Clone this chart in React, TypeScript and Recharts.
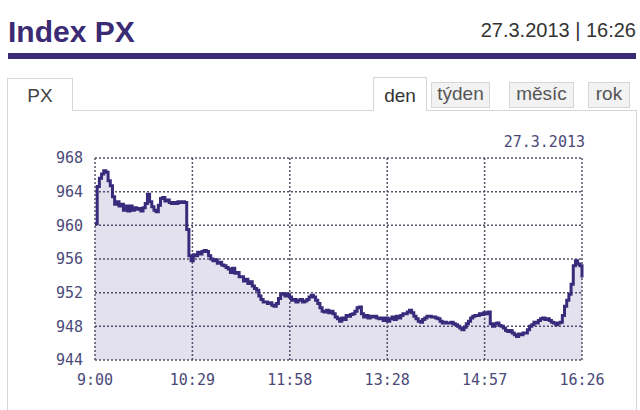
import { Area, AreaChart, CartesianGrid, XAxis, YAxis } from "recharts";

// PX index, 27.3.2013, one reading every 2 minutes from 9:00
const STEP_MIN = 2;
const PX_VALUES = [
  960.2, 964.6, 965.6, 966.1, 966.5, 966.3, 965.3, 964.7, 963.4, 962.5,
  962.8, 962.3, 962.5, 961.8, 962.3, 961.7, 962.3, 961.8, 962.1, 961.9,
  962.0, 961.7, 962.1, 962.6, 963.7, 962.8, 962.2, 961.8, 961.6, 962.4,
  963.2, 963.3, 962.9, 963.0, 962.7, 962.6, 962.7, 962.6, 962.8, 962.7,
  962.8, 962.7, 959.5, 956.4, 955.8, 956.5, 956.4, 956.8, 956.6, 956.9,
  957.0, 956.9, 956.4, 956.0, 955.8, 955.9, 955.5, 955.6, 955.3, 955.2,
  955.0, 954.8, 954.4, 954.9, 954.3, 954.4, 953.9, 953.9, 953.4, 953.6,
  953.1, 953.3, 952.8, 952.5, 952.3, 951.6, 951.2, 950.9, 950.9, 950.7,
  950.8, 950.5, 950.4, 950.7, 951.3, 951.8, 951.9, 951.6, 951.8, 951.5,
  951.1, 951.2, 950.9, 951.1, 951.2, 950.9, 951.0, 951.2, 951.5, 951.7,
  951.5, 951.1, 950.7, 950.2, 949.8, 949.7, 949.9, 949.6, 949.8, 949.5,
  949.1, 948.9, 948.6, 949.0, 948.8, 949.3, 949.2, 949.4, 949.5, 949.8,
  950.2, 950.3, 949.5, 949.1, 949.3, 949.0, 949.2, 949.1, 949.2, 949.0,
  948.9, 949.0, 948.7, 949.0, 948.6, 948.9, 949.1, 948.8, 949.2, 949.0,
  949.3, 949.5, 949.5, 949.7, 949.9, 949.6, 949.2, 948.9, 948.6, 948.5,
  948.8, 949.0, 949.2, 949.2, 949.1, 949.1, 949.0, 948.9, 948.6, 948.4,
  948.5, 948.4, 948.4, 948.5, 948.3, 948.2, 948.0, 947.8, 947.6, 947.9,
  948.3, 948.6, 949.0, 949.2, 949.3, 949.3, 949.5, 949.4, 949.6, 949.5,
  949.7, 948.3, 948.0, 948.3, 948.4, 948.1, 948.0, 947.8, 947.5, 947.4,
  947.5, 947.2, 947.0, 946.8, 947.1, 947.0, 947.2, 947.2, 947.6, 948.0,
  948.2, 948.5, 948.4, 948.7, 948.9, 949.0, 948.8, 948.9, 948.7, 948.5,
  948.4, 948.2, 948.4, 948.5, 949.3, 950.4, 951.1, 951.8, 953.0, 955.2,
  955.8, 955.4, 955.2, 953.8,
];

const Y_TICKS = [944, 948, 952, 956, 960, 964, 968];
const X_TICKS = [0, 89.2, 178.4, 267.6, 356.8, 446];
const X_LABELS = ["9:00", "10:29", "11:58", "13:28", "14:57", "16:26"];
const PERIODS = ["den", "týden", "měsíc", "rok"];

const data = PX_VALUES.map((v, i) => ({ t: i * STEP_MIN, px: v }));

const PURPLE = "#3b2a74";
const LINE = "#3a2a7c";
const AXIS_TEXT = "#4a4a78";
const MONO = "'DejaVu Sans Mono', monospace";
const SANS = "'Liberation Sans', Arial, sans-serif";

const tabBase: React.CSSProperties = {
  position: "absolute",
  boxSizing: "border-box",
  fontFamily: SANS,
  fontSize: 19,
  textAlign: "center",
};

export default function App() {
  const tabPos = [
    { left: 373, width: 54 },
    { left: 431, width: 59 },
    { left: 509, width: 65 },
    { left: 588, width: 42 },
  ];
  return (
    <div
      style={{
        position: "absolute",
        left: 0,
        top: 0,
        width: 640,
        height: 410,
        background: "#fff",
        overflow: "hidden",
      }}
    >
      <div
        style={{
          position: "absolute",
          left: 8,
          top: 14,
          fontFamily: SANS,
          fontWeight: 700,
          fontSize: 30,
          color: PURPLE,
          lineHeight: "36px",
        }}
      >
        Index PX
      </div>
      <div
        style={{
          position: "absolute",
          right: 4,
          top: 18,
          fontFamily: SANS,
          fontSize: 20,
          color: "#333",
          lineHeight: "24px",
        }}
      >
        27.3.2013 | 16:26
      </div>
      <div
        style={{
          position: "absolute",
          left: 8,
          top: 53,
          width: 628,
          height: 6,
          background: PURPLE,
        }}
      />

      {/* panel */}
      <div
        style={{
          position: "absolute",
          left: 7,
          top: 110,
          width: 630,
          height: 320,
          boxSizing: "border-box",
          border: "1px solid #d6d6d6",
        }}
      />
      <div
        style={{
          ...tabBase,
          left: 7,
          top: 78,
          width: 66,
          height: 33,
          background: "#fff",
          border: "1px solid #d6d6d6",
          borderBottom: "none",
          color: "#444",
          lineHeight: "34px",
        }}
      >
        PX
      </div>
      {PERIODS.map((p, i) => {
        const active = i === 0;
        return (
          <div
            key={p}
            style={{
              ...tabBase,
              left: tabPos[i].left,
              width: tabPos[i].width,
              top: active ? 77 : 82,
              height: active ? 34 : 26,
              background: active ? "#fff" : "#f2f2f2",
              border: "1px solid #d6d6d6",
              borderBottom: active ? "none" : "1px solid #d6d6d6",
              color: active ? "#333" : "#555",
              lineHeight: active ? "36px" : "22px",
            }}
          >
            {p}
          </div>
        );
      })}

      <div
        style={{
          position: "absolute",
          right: 55,
          top: 133,
          fontFamily: MONO,
          fontSize: 15,
          color: AXIS_TEXT,
        }}
      >
        27.3.2013
      </div>

      <div style={{ position: "absolute", left: 0, top: 110 }}>
        <AreaChart
          width={640}
          height={290}
          data={data}
          margin={{ top: 48, right: 58, bottom: 10, left: 35 }}
        >
          <CartesianGrid
            stroke="#55556a"
            strokeDasharray="2 2"
            strokeWidth={1.5}
          />
          <XAxis
            dataKey="t"
            type="number"
            domain={[0, 446]}
            ticks={X_TICKS}
            tickFormatter={(v: number) => X_LABELS[X_TICKS.indexOf(v)] ?? ""}
            axisLine={false}
            tickLine={false}
            tickSize={0}
            tickMargin={14}
            height={30}
            interval={0}
            tick={{ fill: AXIS_TEXT, fontFamily: MONO, fontSize: 15 }}
          />
          <YAxis
            domain={[944, 968]}
            ticks={Y_TICKS}
            width={60}
            axisLine={false}
            tickLine={false}
            tickSize={0}
            tickMargin={12}
            interval={0}
            allowDataOverflow
            tick={{ fill: AXIS_TEXT, fontFamily: MONO, fontSize: 15 }}
          />
          <Area
            type="stepAfter"
            dataKey="px"
            stroke={LINE}
            strokeWidth={3}
            fill={LINE}
            fillOpacity={0.14}
            baseValue={944}
            isAnimationActive={false}
            dot={false}
            activeDot={false}
          />
        </AreaChart>
      </div>
    </div>
  );
}
